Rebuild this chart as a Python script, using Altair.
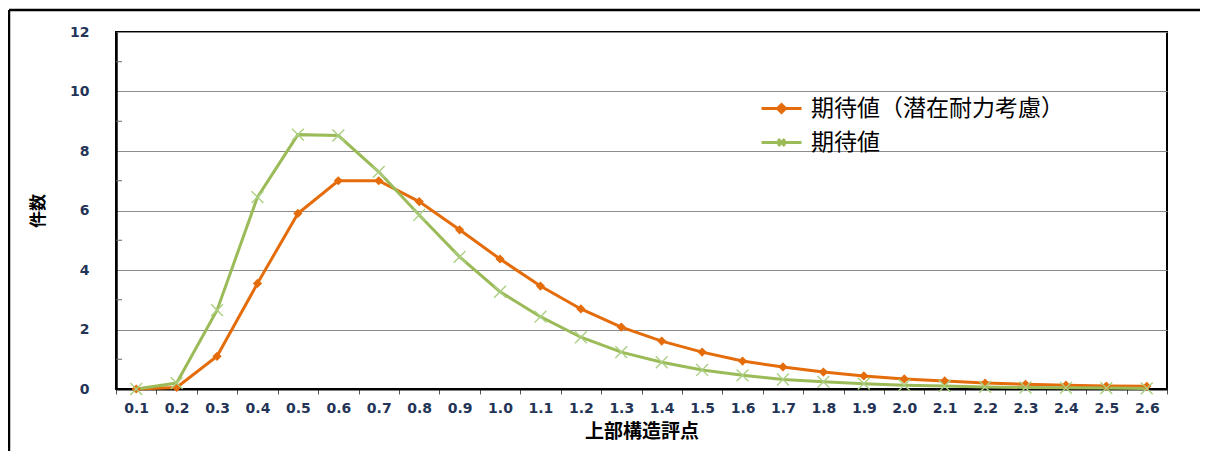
import altair as alt
import pandas as pd

categories = ['0.1', '0.2', '0.3', '0.4', '0.5', '0.6', '0.7', '0.8', '0.9', '1.0',
              '1.1', '1.2', '1.3', '1.4', '1.5', '1.6', '1.7', '1.8', '1.9', '2.0',
              '2.1', '2.2', '2.3', '2.4', '2.5', '2.6']
series_a_name = '期待値（潜在耐力考慮）'
series_b_name = '期待値'
series_a = [0.0, 0.05, 1.1, 3.55, 5.9, 7.0, 7.0, 6.3, 5.35, 4.37,
            3.46, 2.69, 2.08, 1.61, 1.24, 0.94, 0.74, 0.57, 0.44, 0.34,
            0.27, 0.2, 0.16, 0.13, 0.1, 0.09]
series_b = [0.0, 0.2, 2.65, 6.45, 8.55, 8.52, 7.3, 5.85, 4.44, 3.27,
            2.43, 1.74, 1.24, 0.9, 0.64, 0.46, 0.32, 0.24, 0.18, 0.13,
            0.1, 0.07, 0.05, 0.04, 0.03, 0.02]
y_ticks = [0, 2, 4, 6, 8, 10, 12]
minor_ticks = [1, 3, 5, 7, 9, 11]

series_names = [series_a_name, series_b_name]
line_colors = ['#e46c0a', '#9bbb59']
legend_paths = ['M-1,0L1,0M0,-0.2L0.2,0L0,0.2L-0.2,0Z',
                'M-1,0L1,0M-0.17,-0.17L0.17,0.17M-0.17,0.17L0.17,-0.17']
x_path = 'M-1,-1L1,1M-1,1L1,-1'

df = pd.DataFrame({
    'score': categories * 2,
    'value': series_a + series_b,
    'series': [series_a_name] * len(categories) + [series_b_name] * len(categories),
})

label_color = '#243457'
xenc = alt.X('score:N', sort=categories,
             scale=alt.Scale(type='band', domain=categories, paddingInner=0, paddingOuter=0),
             axis=alt.Axis(title='上部構造評点', labelAngle=0, tickBand='extent', tickSize=5,
                           tickColor='#555555', labelPadding=7,
                           labelFont='DejaVu Sans', labelFontSize=14, labelFontWeight='bold',
                           labelColor=label_color, domainColor='#000000', domainWidth=2,
                           titleFont='Noto Sans CJK JP', titleFontSize=19, titleFontWeight='bold',
                           titleColor='#000000', titlePadding=7))
yscale = alt.Scale(domain=[0, 12], nice=False)
yenc = alt.Y('value:Q', scale=yscale,
             axis=alt.Axis(title='件数', values=y_ticks, grid=True, gridColor='#8c8c8c',
                           gridWidth=1, tickSize=0, labelPadding=27,
                           labelFont='DejaVu Sans', labelFontSize=14, labelFontWeight='bold',
                           labelColor=label_color, domainColor='#000000', domainWidth=2.5,
                           titleFont='Noto Sans CJK JP', titleFontSize=17, titleFontWeight='bold',
                           titleColor='#000000', titlePadding=22))

stroke_scale = alt.Scale(domain=series_names, range=line_colors)

frame_src = pd.DataFrame({'k': [0]})
frame_left = alt.Chart(frame_src).mark_rule(color='#000000', strokeWidth=2.5).encode(
    x=alt.value(-107), y=alt.value(-22), y2=alt.value(420))
frame_top = alt.Chart(frame_src).mark_rule(color='#000000', strokeWidth=2.5).encode(
    x=alt.value(-107), x2=alt.value(1084), y=alt.value(-22))

minor = alt.Chart(pd.DataFrame({'m': minor_ticks})).mark_rule(
    color='#666666', strokeWidth=1
).encode(y=alt.Y('m:Q', scale=yscale), x=alt.value(0), x2=alt.value(6))

base = alt.Chart(df)

lines_a = base.transform_filter(alt.datum.series == series_a_name).mark_line(
    strokeWidth=3, color=line_colors[0]).encode(x=xenc, y=yenc)
lines_b = base.transform_filter(alt.datum.series == series_b_name).mark_line(
    strokeWidth=3, color=line_colors[1]).encode(x=xenc, y=yenc)

pts_a = base.transform_filter(alt.datum.series == series_a_name).mark_point(
    shape='diamond', filled=True, size=85, color=line_colors[0], opacity=1
).encode(x=xenc, y=yenc)
pts_b = base.transform_filter(alt.datum.series == series_b_name).mark_point(
    shape=x_path, filled=False, size=140, color='#abcf82', strokeWidth=1.4, opacity=1
).encode(x=xenc, y=yenc)

leg = alt.Legend(title=None, orient='none', legendX=644, legendY=55, symbolSize=1600,
                 symbolStrokeWidth=3, rowPadding=-10, labelFont='Noto Sans CJK JP',
                 labelFontSize=23, labelColor='#000000', labelOffset=8, padding=0,
                 labelLimit=400)
legend_layer = base.transform_filter('false').mark_point(filled=False, opacity=1).encode(
    x=xenc, y=yenc,
    stroke=alt.Stroke('series:N', scale=stroke_scale, legend=leg),
    fill=alt.Fill('series:N', scale=alt.Scale(domain=series_names, range=line_colors), legend=leg),
    shape=alt.Shape('series:N', scale=alt.Scale(domain=series_names, range=legend_paths), legend=leg),
)

chart = alt.layer(frame_left, frame_top, minor, lines_a, lines_b, pts_a, pts_b, legend_layer).properties(
    width=1051, height=357,
    autosize=alt.AutoSizeParams(type='none'),
    padding={'left': 108, 'top': 24, 'right': 33, 'bottom': 62},
    background='#ffffff'
).configure_view(stroke='#000000', strokeWidth=2)

chart.save('out.html', embed_options={'renderer': 'svg', 'actions': False})
